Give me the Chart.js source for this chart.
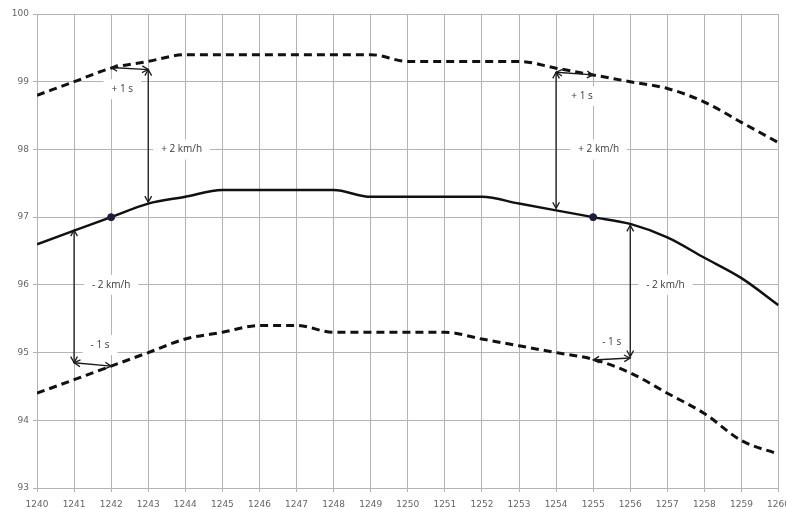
<!DOCTYPE html>
<html>
<head>
<meta charset="UTF-8">
<title>Speed band</title>
<script src="https://cdn.jsdelivr.net/npm/chart.js@4.4.1/dist/chart.umd.min.js"></script>
<style>
    html, body { margin: 0; padding: 0; background: #fff; overflow: hidden; }
    #wrap { width: 797px; height: 509px; }
</style>
</head>
<body>
<div id="wrap"><canvas id="myChart"></canvas></div>
<script>
    // positions along the track
    var xs = [1240, 1241, 1242, 1243, 1244, 1245, 1246, 1247, 1248, 1249, 1250,
              1251, 1252, 1253, 1254, 1255, 1256, 1257, 1258, 1259, 1260];
    // speed curves
    var center = [96.6, 96.8, 97.0, 97.2, 97.3, 97.4, 97.4, 97.4, 97.4, 97.3, 97.3,
                  97.3, 97.3, 97.2, 97.1, 97.0, 96.9, 96.7, 96.4, 96.1, 95.7];
    var upper = [98.8, 99.0, 99.2, 99.3, 99.4, 99.4, 99.4, 99.4, 99.4, 99.4, 99.3,
                 99.3, 99.3, 99.3, 99.2, 99.1, 99.0, 98.9, 98.7, 98.4, 98.1];
    var lower = [94.4, 94.6, 94.8, 95.0, 95.2, 95.3, 95.4, 95.4, 95.3, 95.3, 95.3,
                 95.3, 95.2, 95.1, 95.0, 94.9, 94.7, 94.4, 94.1, 93.7, 93.5];
    var markX = [1242, 1255];
    var markY = [97, 97];

    // double arrows: x1, y1, x2, y2
    var arrows = [
        [1242, 99.21, 1243, 99.18],
        [1243, 99.18, 1243, 97.22],
        [1241, 96.81, 1241, 94.85],
        [1241, 94.85, 1242, 94.80],
        [1254, 99.14, 1255, 99.10],
        [1254, 99.14, 1254, 97.13],
        [1256, 96.88, 1256, 94.94],
        [1255, 94.89, 1256, 94.92]
    ];
    var noteText = ['+ 1 s', '+ 2 km/h', '- 2 km/h', '- 1 s', '+ 1 s', '+ 2 km/h', '- 2 km/h', '- 1 s'];
    var noteX = [1242.3, 1243.9, 1242.0, 1241.7, 1254.7, 1255.15, 1256.95, 1255.5];
    var noteY = [98.89, 98.0, 96.0, 95.11, 98.79, 98.0, 96.0, 95.15];

    function pts(ys) {
        return xs.map(function (x, i) { return { x: x, y: ys[i] }; });
    }

    function arrowHead(ctx, x, y, ang) {
        var len = 7, spread = 0.5;
        ctx.beginPath();
        ctx.moveTo(x + len * Math.cos(ang - spread), y + len * Math.sin(ang - spread));
        ctx.lineTo(x, y);
        ctx.lineTo(x + len * Math.cos(ang + spread), y + len * Math.sin(ang + spread));
        ctx.stroke();
    }

    var overlay = {
        id: 'overlay',
        beforeDatasetsDraw: function (chart) {
            var ctx = chart.ctx, sx = chart.scales.x, sy = chart.scales.y;
            ctx.save();
            ctx.font = '10px "Open Sans"';
            ctx.textAlign = 'center';
            ctx.textBaseline = 'middle';
            for (var i = 0; i < noteText.length; i++) {
                var px = sx.getPixelForValue(noteX[i]);
                var py = sy.getPixelForValue(noteY[i]);
                var w = ctx.measureText(noteText[i]).width + 16;
                ctx.fillStyle = '#fff';
                ctx.fillRect(px - w / 2, py - 10, w, 20);
                ctx.fillStyle = '#3a3a3a';
                ctx.fillText(noteText[i], px, py);
            }
            ctx.restore();
        },
        afterDatasetsDraw: function (chart) {
            var ctx = chart.ctx, sx = chart.scales.x, sy = chart.scales.y;
            ctx.save();
            ctx.strokeStyle = '#1a1a1a';
            ctx.lineWidth = 1.3;
            arrows.forEach(function (a) {
                var x1 = sx.getPixelForValue(a[0]), y1 = sy.getPixelForValue(a[1]);
                var x2 = sx.getPixelForValue(a[2]), y2 = sy.getPixelForValue(a[3]);
                ctx.beginPath();
                ctx.moveTo(x1, y1);
                ctx.lineTo(x2, y2);
                ctx.stroke();
                var ang = Math.atan2(y2 - y1, x2 - x1);
                arrowHead(ctx, x1, y1, ang);
                arrowHead(ctx, x2, y2, ang + Math.PI);
            });
            ctx.restore();
        }
    };

    var gridColor = '#b4b4b4';
    var tickFont = { family: 'DejaVu Sans', size: 9 };

    var config = {
        type: 'line',
        data: {
            datasets: [{
                data: markX.map(function (x, i) { return { x: x, y: markY[i] }; }),
                showLine: false,
                pointRadius: 3.5,
                pointBackgroundColor: '#1c1c3c',
                pointBorderColor: '#1c1c3c'
            }, {
                data: pts(center),
                borderColor: '#111',
                borderWidth: 2.5,
                pointRadius: 0,
                cubicInterpolationMode: 'monotone'
            }, {
                data: pts(upper),
                borderColor: '#111',
                borderWidth: 3,
                borderDash: [8, 5],
                pointRadius: 0,
                cubicInterpolationMode: 'monotone'
            }, {
                data: pts(lower),
                borderColor: '#111',
                borderWidth: 3,
                borderDash: [8, 5],
                pointRadius: 0,
                cubicInterpolationMode: 'monotone'
            }]
        },
        options: {
            responsive: true,
            maintainAspectRatio: false,
            animation: false,
            layout: { padding: { top: 14, right: 12, bottom: 0, left: 0 } },
            plugins: { legend: { display: false }, tooltip: { enabled: false } },
            scales: {
                x: {
                    type: 'linear',
                    min: 1240,
                    max: 1260,
                    afterFit: function (s) { s.height = 21; },
                    ticks: {
                        stepSize: 1,
                        maxRotation: 0,
                        autoSkip: false,
                        padding: 7,
                        color: '#666',
                        font: tickFont,
                        callback: function (v) { return String(v); }
                    },
                    grid: { color: gridColor, tickLength: 4 },
                    border: { color: gridColor }
                },
                y: {
                    min: 93,
                    max: 100,
                    afterFit: function (s) { s.width = 37; },
                    ticks: {
                        stepSize: 1,
                        padding: 4,
                        color: '#666',
                        font: tickFont
                    },
                    grid: { color: gridColor, tickLength: 4 },
                    border: { color: gridColor }
                }
            }
        },
        plugins: [overlay]
    };

    var myChart = new Chart(document.getElementById('myChart'), config);
</script>
</body>
</html>
